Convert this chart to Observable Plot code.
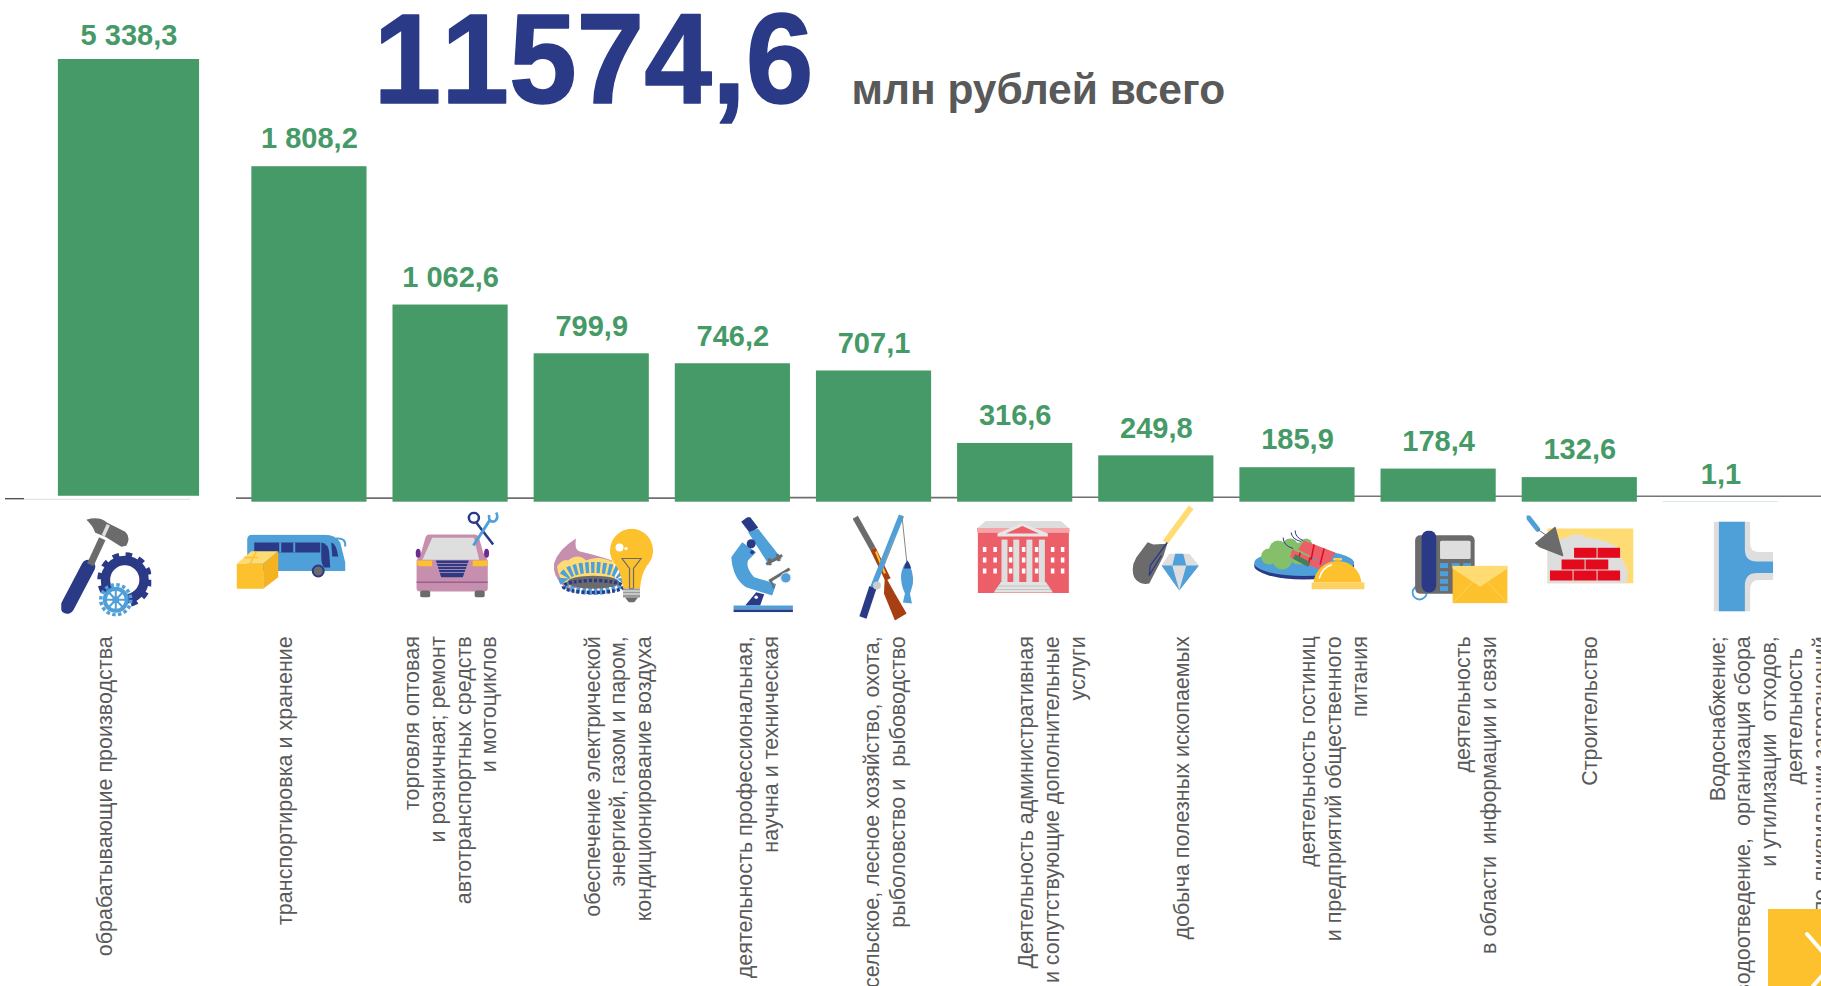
<!DOCTYPE html>
<html lang="ru">
<head>
<meta charset="utf-8">
<title>11574,6 млн рублей всего</title>
<script src="https://cdn.jsdelivr.net/npm/d3@7"></script>
<script src="https://cdn.jsdelivr.net/npm/@observablehq/plot@0.6"></script>
<style>
html,body{margin:0;padding:0;background:#fff;overflow:hidden;width:1821px;height:986px}
#wrap{position:relative;width:1821px;height:986px;overflow:hidden}
#corner{position:absolute;left:0;top:0;pointer-events:none}
.headline text{font-kerning:none}
</style>
</head>
<body>
<div id="wrap"></div>
<script>
// ---------- data ----------
const categories = [
  "обрабатывающие производства",
  "транспортировка и хранение",
  "торговля оптовая\nи розничная; ремонт\nавтотранспортных средств\nи мотоциклов",
  "обеспечение электрической\nэнергией, газом и паром,\nкондиционирование воздуха",
  "деятельность профессиональная,\nнаучна и техническая",
  "сельское, лесное хозяйство, охота,\nрыболовство и  рыбоводство",
  "Деятельность административная\nи сопутствующие дополнительные\nуслуги",
  "добыча полезных ископаемых",
  "деятельность гостиниц\nи предприятий общественного\nпитания",
  "деятельность\nв области  информации и связи",
  "Строительство",
  "Водоснабжение;\nводоотведение,  организация сбора\nи утилизации  отходов,\nдеятельность\u00a0\u00a0\nпо ликвидации загрязнений"
];
const values = [5338.3, 1808.2, 1062.6, 799.9, 746.2, 707.1, 316.6, 249.8, 185.9, 178.4, 132.6, 1.1];
const totalValue = "11574,6";
const totalUnit = "млн рублей всего";

// ---------- layout (px nudges relative to each category's band) ----------
const labelNudge = [-64.3, -25.7, -0.9, 25.3, 24.1, 9.9, 35.7, 24.5, 35.2, 36, 8.5, 47];
const iconNudge = [[-62,64.6],[-17.7,59.8],[6.6,52.3],[13.3,63.3],[29.3,62.5],[9.9,64.8],[8.2,55.3],[9.2,46.3],[11.9,57.3],[20.5,64.8],[0.3,47.3],[21.6,64.3]];
const iconSize = [[90,100],[111,55],[84,86],[102,74],[62,95],[62,107],[93,73],[66.5,86],[110.5,60],[97,73],[107,68],[61.3,90]];

const NAVY="#2a3a86",BLUE="#4f9fd8",YEL="#fdc12e",LYEL="#ffdc73",GR="#6b6b6b",LG="#dedede",PINK="#c78fae",RED="#e30a1e",SAL="#ec5f68",WH="#fff";
// ---------- pictograms ----------
const iconArt = [
 // hammer and gears
 `<path d="M6 90L27 50" stroke="${NAVY}" stroke-width="14" stroke-linecap="round"/><path d="M29 48L41 22" stroke="${GR}" stroke-width="7"/>
  <path d="M25 3Q38-1 46 6L64 15Q70 21 65 29L60 30L44 20L34 16Q31 8 25 3z" fill="${GR}"/><path d="M47 8L42 19" stroke="#ddd" stroke-width="3.5"/>
  <circle cx="63.5" cy="63" r="19" fill="none" stroke="${NAVY}" stroke-width="10"/><circle cx="63.5" cy="63" r="25" fill="none" stroke="${NAVY}" stroke-width="5" stroke-dasharray="6.5 6.6"/>
  <circle cx="63.5" cy="63" r="14" fill="none" stroke="#fff" stroke-width="1.2"/>
  <circle cx="54.5" cy="83" r="11" fill="#fff" stroke="${BLUE}" stroke-width="4"/><circle cx="54.5" cy="83" r="15" fill="none" stroke="${BLUE}" stroke-width="3.5" stroke-dasharray="3.4 2.5"/>
  <path d="M54.5 72V94M43.5 83H65.5M47 75L62 91M62 75L47 91" stroke="${BLUE}" stroke-width="2"/><circle cx="54.5" cy="83" r="3.5" fill="${BLUE}"/>`,
 // bus and box
 `<path d="M11 5Q11 .3 16 .3H88Q100 .3 104 8L109 28V36.5H11z" fill="${BLUE}"/><path d="M18 8H84V18H18z" fill="${NAVY}"/><path d="M43 8h2v10h-2zM57 8h2v10h-2z" fill="${BLUE}"/>
  <path d="M85 8Q92 9 93 18L94 33H88Q85 30 85 22z" fill="${NAVY}"/><path d="M95 8Q100 9 102 22H96z" fill="${NAVY}"/><path d="M100 4Q110 3 109 12" stroke="${BLUE}" stroke-width="2" fill="none"/>
  <circle cx="82" cy="36.5" r="5.5" fill="${GR}" stroke="${NAVY}" stroke-width="2"/>
  <path d="M.5 29.3L15 16.7H42L27 29.3z" fill="${LYEL}"/><path d="M.5 29.3H27V54.3H.5z" fill="${YEL}"/><path d="M27 29.3L42 16.7V42.7L27 54.3z" fill="#f5b322"/>
  <path d="M8 23L22 23M20 17L14 29" stroke="${YEL}" stroke-width="1.5"/>`,
 // car with tools
 `<path d="M14 23H59.5Q63 23 64 27L68 41L72.6 49V77Q72.6 80 69 80H5Q1.4 80 1.4 77V49L6 41L10 27Q11 23 14 23z" fill="${PINK}"/>
  <path d="M17 26.3H58.7L64 48.3H7.3z" fill="${LG}"/><path d="M20.7 49H53.6L47.6 65.7H26z" fill="${NAVY}"/><path d="M21 52H53M22 55H52M23 58H51M24 61H50" stroke="${PINK}" stroke-width=".8"/>
  <path d="M2 49H17V54.7H4Q2 54.7 2 53zM57.5 49H72.6V53Q72.6 54.7 70 54.7H57.5z" fill="${YEL}"/><path d="M1.4 70.7H72.6" stroke="#9c5f90" stroke-width="1.5"/>
  <rect x="5" y="79" width="10" height="7" rx="2" fill="${GR}"/><rect x="59.5" y="79" width="10" height="7" rx="2" fill="${GR}"/>
  <ellipse cx="3" cy="41.7" rx="2.5" ry="4.5" fill="#6a2c91"/><ellipse cx="71.4" cy="41.7" rx="2.5" ry="4.5" fill="#6a2c91"/>
  <circle cx="58.7" cy="6.3" r="5" fill="none" stroke="${NAVY}" stroke-width="2.5"/><path d="M61 11L78 33" stroke="${NAVY}" stroke-width="2.5"/>
  <path d="M58.3 34L75 8" stroke="${BLUE}" stroke-width="3"/><path d="M74 3.5Q73 11 79 10Q84 7 81 1" fill="none" stroke="${BLUE}" stroke-width="2.6"/>`,
 // gas burner and bulb
 `<path d="M22 10Q20 22 26 23Q40 26 58 32L62 58L12 60Q-2 48 0 35Q4 21 22 10z" fill="${PINK}"/><path d="M3 38Q9 30 14 32Q24 24 32 32Q44 26 60 34V56L14 58Q4 50 3 38z" fill="${LYEL}"/>
  <ellipse cx="39" cy="50" rx="29" ry="11" fill="none" stroke="${BLUE}" stroke-width="11" stroke-dasharray="3.5 2.2"/>
  <ellipse cx="39.3" cy="53.7" rx="26" ry="6.5" fill="${GR}"/><ellipse cx="39.3" cy="58" rx="30" ry="6" fill="none" stroke="${NAVY}" stroke-width="3.5" stroke-dasharray="3 2"/>
  <path d="M77.7 .3A21.7 21.7 0 0 1 93 37Q87 46 86 60H69Q68 46 62 37A21.7 21.7 0 0 1 77.7 .3z" fill="${YEL}"/>
  <circle cx="65.5" cy="19" r="4" fill="#fff"/><circle cx="72" cy="20" r="1.6" fill="#fff"/>
  <path d="M68 30L87 30L79.5 40L79.5 60H75.5V40z" fill="none" stroke="${GR}" stroke-width="1.2"/>
  <rect x="69" y="60" width="17" height="9" fill="#9a9a9a"/><path d="M69 62.5H86M69 65.5H86" stroke="#fff" stroke-width=".9"/><path d="M71 69H84L80 74H75z" fill="${GR}"/>`,
 // microscope
 `<path d="M14 1.6L23 13.3" stroke="${NAVY}" stroke-width="10"/><path d="M17 15L27 11.6L50.6 41.6L37 46.6z" fill="${BLUE}"/>
  <path d="M11 25L0 40Q2 62 15 70L41 78.3L45 66.7L23 60Q14 50 17 43L25 35z" fill="${BLUE}"/><circle cx="20" cy="26.6" r="4.5" fill="${NAVY}"/><circle cx="21" cy="35" r="2" fill="${NAVY}"/>
  <path d="M35 47L51 38M38 41L39 48M46 37L48 44" stroke="${GR}" stroke-width="3"/><path d="M38 64L58.5 51.6" stroke="${GR}" stroke-width="3"/><path d="M39 62L43 71" stroke="${GR}" stroke-width="2"/>
  <circle cx="54.6" cy="60.6" r="5" fill="${BLUE}" stroke="#cfe2f2" stroke-width="1"/>
  <path d="M14 88.3L25 75L33 77L29 88.3z" fill="${NAVY}"/><circle cx="25" cy="80" r="1.8" fill="#fff"/>
  <rect x="2.4" y="88.3" width="59.3" height="4" fill="${BLUE}"/><rect x="2.4" y="92.3" width="59.3" height="2.7" fill="${NAVY}"/>`,
 // gun, fishing rod, fish
 `<path d="M2.3 3.7L20 35.3" stroke="${GR}" stroke-width="6"/><path d="M20 35.3L35 66" stroke="#a63f12" stroke-width="6"/><path d="M23 38L32 60" stroke="${YEL}" stroke-width="2"/>
  <path d="M32 62L42 80L53.7 100L42 107L31 80z" fill="#a63f12"/>
  <path d="M48.5 2L20 73.7" stroke="${BLUE}" stroke-width="5.5"/><path d="M20 73.7L10 104" stroke="${NAVY}" stroke-width="7.5"/><path d="M49 2L54 50" stroke="#888" stroke-width="1" fill="none"/>
  <path d="M42 22Q37 34 32 48" fill="none" stroke="#999" stroke-width="1"/><circle cx="24" cy="72" r="4" fill="#ccc"/>
  <path d="M54.5 47Q61 58 60 70Q58 78 57 80L59 90L50 89L52 80Q48 72 48 62Q49 53 54.5 47z" fill="${BLUE}"/><path d="M54.5 47Q58 52 58 55H51Q52 50 54.5 47z" fill="${NAVY}"/>`,
 // public building
 `<path d="M8.8 0H84L92.6 7.6H-.3z" fill="#ddd"/><rect x="-.3" y="7" width="93" height="4.6" fill="#f4a3a7"/><rect x="1" y="11.6" width="91" height="60.4" fill="${SAL}"/>
  <g fill="#fff"><path d="M6 26h3.5v5H6zM6 36.6h3.5v5H6zM6 47.6h3.5v5H6zM16.5 26h3.5v5h-3.5zM16.5 36.6h3.5v5h-3.5zM16.5 47.6h3.5v5h-3.5zM74 26h3.5v5H74zM74 36.6h3.5v5H74zM74 47.6h3.5v5H74zM84 26h3.5v5H84zM84 36.6h3.5v5H84zM84 47.6h3.5v5H84zM32 26h3.5v5H32zM32 36.6h3.5v5H32zM32 47.6h3.5v5H32zM45 26h3.5v5H45zM45 36.6h3.5v5H45zM45 47.6h3.5v5H45zM58 26h3.5v5H58zM58 36.6h3.5v5H58zM58 47.6h3.5v5H58z"/></g>
  <path d="M45.5 2L71 12.6V15.6H20.6V12.6z" fill="#e6e6e6"/><path d="M45.5 5L62 12.5H29z" fill="${SAL}"/>
  <g fill="#dedede"><rect x="24.6" y="18.6" width="6" height="43"/><rect x="36.4" y="18.6" width="6" height="43"/><rect x="49.5" y="18.6" width="6" height="43"/><rect x="62" y="18.6" width="6" height="43"/></g>
  <path d="M24 61H69L76 71.5H17z" fill="#e3e3e3"/><path d="M21 65H72M18 68.5H75" stroke="#bdbdbd" stroke-width=".8"/>`,
 // shovel and gem
 `<path d="M58.9 1.7L33 36.7" stroke="${LYEL}" stroke-width="6"/><path d="M15.4 36.7L21 39L35 38.3L31 51L17 78Q7 80 2 72Q-2 62 4 52z" fill="${GR}"/><path d="M35 37L18 60L17 70L29 50" fill="none" stroke="${NAVY}" stroke-width="1.3"/>
  <path d="M37 48.3H57L66.8 60L47 85L29.2 60z" fill="${LG}"/><path d="M43 48.3H51L54 60H40z" fill="${BLUE}"/><path d="M29.2 60H40L47 85zM66.8 60H54L47 85z" fill="${BLUE}"/>`,
 // dish and bell
 `<ellipse cx="50" cy="36" rx="50" ry="14" fill="${NAVY}"/><ellipse cx="50" cy="33.5" rx="50" ry="13" fill="${BLUE}"/>
  <g fill="#86bf6a"><circle cx="15" cy="27" r="8"/><circle cx="24" cy="20" r="9"/><circle cx="36" cy="17" r="8"/><circle cx="45" cy="24" r="11"/><circle cx="28" cy="30" r="10"/><circle cx="52" cy="15" r="6"/></g>
  <path d="M50 11L81 23L74 36L44 20z" fill="${SAL}"/><path d="M38 20L70 34L66 40L36 28z" fill="${SAL}"/><path d="M60 15L57 30M70 19L66 35M46 23L44 31M56 28L54 36" stroke="${RED}" stroke-width="1.5"/>
  <path d="M40 27L55 35" stroke="#497c5a" stroke-width="5"/><path d="M49 11Q41 8 41 1M47 12Q38 10 37 3M39 19Q29 16 29 8" fill="none" stroke="${NAVY}" stroke-width="1"/>
  <path d="M59.4 53A24 23 0 0 1 107.3 53z" fill="${YEL}"/><rect x="57.5" y="53" width="53" height="7" fill="#fdd262"/><rect x="79" y="28.6" width="9" height="2.4" rx="1" fill="#fdd262"/><rect x="82" y="30" width="3" height="2" fill="#f5b322"/>
  <path d="M65 49Q68 38 78 35" fill="none" stroke="#fff" stroke-width="1.6"/>`,
 // telephone and envelope
 `<circle cx="9" cy="62" r="7" fill="none" stroke="${BLUE}" stroke-width="1.8"/><rect x="4.5" y="4.8" width="59.5" height="58.5" rx="5" fill="${GR}"/><rect x="11" y="0" width="14.6" height="62" rx="7" fill="${NAVY}"/>
  <rect x="29.4" y="10.3" width="30.6" height="18.2" rx="1.5" fill="${LG}"/>
  <g fill="${BLUE}"><rect x="29.4" y="32.6" width="8" height="5"/><rect x="41" y="32.6" width="8" height="5"/><rect x="52.4" y="32.6" width="8" height="5"/><rect x="29.4" y="40.7" width="8" height="5"/><rect x="29.4" y="48.3" width="8" height="5"/><rect x="29.4" y="55.6" width="8" height="5"/></g>
  <rect x="42" y="35.4" width="55" height="37.3" fill="${YEL}"/><path d="M42 35.4H97V38L69.6 56.3L42 38z" fill="${LYEL}"/><path d="M42 72.7L62 52M97 72.7L77 52" stroke="#ffd35c" stroke-width="1"/>`,
 // bricks and trowel
 `<rect x="21" y="13" width="86" height="55" fill="${LYEL}"/><path d="M21 68V30Q32 24 40 22Q50 16 60 22Q78 24 88 30Q94 34 95 44Q103 52 100 68z" fill="${LG}"/>
  <g fill="${RED}"><rect x="47.5" y="32.3" width="22.5" height="10"/><rect x="71" y="32.3" width="22.5" height="10"/><rect x="35" y="44" width="23" height="10"/><rect x="59" y="44" width="22.7" height="10"/><rect x="23.4" y="55" width="22.6" height="10"/><rect x="47" y="55" width="23" height="10"/><rect x="71" y="55" width="22.5" height="10"/></g>
  <path d="M1.6 1.7L11 13.8" stroke="${BLUE}" stroke-width="5" stroke-linecap="round"/><path d="M11 13.8L20 20" stroke="${GR}" stroke-width="1"/><path d="M9.2 27.8L28.4 12L36 40L13 31z" fill="${GR}" stroke="${GR}" stroke-linejoin="round" stroke-width="1.5"/>`,
 // pipe tee
 `<path d="M2 0H38.3V22Q38.3 30 46 30.5H61.3V58.4H46Q38.3 59 38.3 68V90H2z" fill="${LG}"/><path d="M7 0H33V28Q33 40 45 40H61.3V51.4H45Q33 51.4 33 64V90H7z" fill="${BLUE}"/>`
];
const iconSrc = iconArt.map((art, i) => "data:image/svg+xml," + encodeURIComponent(
  `<svg xmlns="http://www.w3.org/2000/svg" width="${iconSize[i][0]}" height="${iconSize[i][1]}" viewBox="0 0 ${iconSize[i][0]} ${iconSize[i][1]}">${art}</svg>`));

// ---------- table ----------
const rows = categories.map((category, i) => ({category, value: values[i]}));
const first = rows.slice(0, 1);
const rest = rows.slice(1);
const fmt = d3.formatLocale({decimal: ",", thousands: " ", grouping: [3], currency: ["", ""]}).format(",.1f");

const GREEN = "#459a67";
const FONT = "'Liberation Sans', Arial, sans-serif";
const baseValue = 0;

const chart = Plot.plot({
  width: 1821, height: 986,
  margin: 0,
  style: {background: "#fff", fontFamily: FONT},
  x: {type: "band", domain: categories, range: [97.2, 1791], round: false, paddingInner: 0.184, paddingOuter: 0.092, axis: null},
  y: {type: "linear", domain: [0, 2386], range: [501.7, 59], clamp: true, axis: null},
  marks: [
    // axis line, very slightly tilted in the reference: segments meet behind the bars
    Plot.ruleY([22], {stroke: "#6f6f6f", strokeWidth: 1.6, insetLeft: 236, insetRight: 1821 - 680}),
    Plot.ruleY([24.5], {stroke: "#6f6f6f", strokeWidth: 1.6, insetLeft: 680, insetRight: 1821 - 1000}),
    Plot.ruleY([27], {stroke: "#6f6f6f", strokeWidth: 1.6, insetLeft: 1000, insetRight: 1821 - 1300}),
    Plot.ruleY([32], {stroke: "#777", strokeWidth: 1.6, insetLeft: 1300}),
    Plot.ruleY([19], {stroke: "#4f4f4f", strokeWidth: 1.4, insetLeft: 5, insetRight: 1821 - 24}),
    Plot.ruleY([15], {stroke: "#e4e4e4", strokeWidth: 1.4, insetLeft: 24, insetRight: 1821 - 190}),
    // bars
    Plot.barY(first, {x: "category", y1: () => 32, y2: "value", fill: GREEN, dx: -39.3, insetLeft: -13, insetRight: -13}),
    Plot.barY(rest, {x: "category", y: "value", fill: GREEN}),
    // value labels
    Plot.text(first, {x: "category", y: "value", text: d => fmt(d.value), dx: -39.3, dy: -24, fill: GREEN, fontSize: 29, fontWeight: 700}),
    Plot.text(rest, {x: "category", y: "value", text: d => fmt(d.value), dy: -27.5, fill: GREEN, fontSize: 29, fontWeight: 700}),
    // category labels
    ...rows.map((d, i) => Plot.text([d], {
      x: "category", y: () => baseValue, text: "category",
      rotate: -90, textAnchor: "end", lineAnchor: "middle", lineHeight: 1.195,
      dx: labelNudge[i], dy: 134, fill: "#595959", fontSize: 21.5
    })),
    // pictograms
    ...rows.map((d, i) => Plot.image([d], {
      x: "category", y: () => baseValue, src: () => iconSrc[i],
      width: iconSize[i][0], height: iconSize[i][1], dx: iconNudge[i][0], dy: iconNudge[i][1]
    })),
    // headline
    Plot.text([totalValue], {text: d => d, frameAnchor: "top-left", dx: 373, dy: 12, textAnchor: "start", fill: NAVY, stroke: NAVY, strokeWidth: 1.5, fontSize: 128, fontWeight: 700, className: "headline"}),
    Plot.text([totalUnit], {text: d => d, frameAnchor: "top-left", dx: 851, dy: 73, textAnchor: "start", fill: "#595959", fontSize: 42.5, fontWeight: 700})
  ]
});
document.getElementById("wrap").appendChild(chart);
// the reference's headline figure is set slightly condensed
d3.select(chart).selectAll(".headline text").attr("textLength", 440).attr("lengthAdjust", "spacingAndGlyphs");

// page control peeking in at the corner of the slide
const corner = document.createElementNS("http://www.w3.org/2000/svg", "svg");
corner.setAttribute("id", "corner");
corner.setAttribute("width", 1821);
corner.setAttribute("height", 986);
corner.innerHTML = `<rect x="1768" y="909" width="60" height="80" fill="${YEL}"/><path d="M1807 934L1833 963.6L1813 986" fill="none" stroke="#fff" stroke-width="4" stroke-linecap="round"/>`;
document.getElementById("wrap").appendChild(corner);
</script>
</body>
</html>
